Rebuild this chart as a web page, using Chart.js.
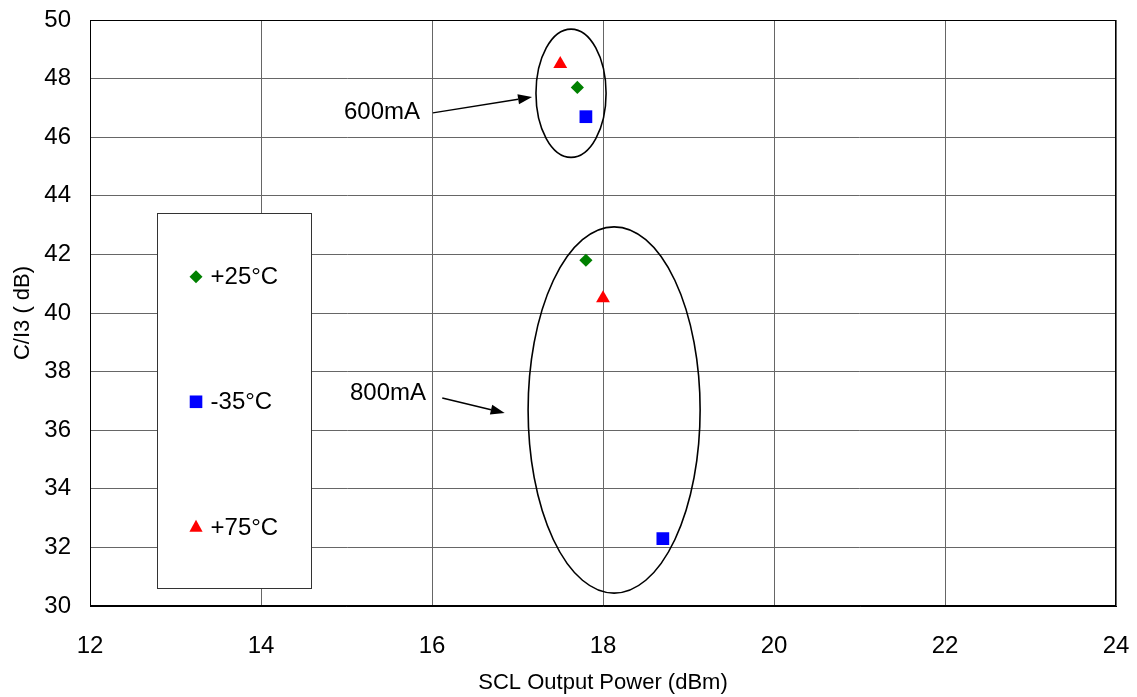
<!DOCTYPE html>
<html>
<head>
<meta charset="utf-8">
<script src="https://cdn.jsdelivr.net/npm/chart.js@4/dist/chart.umd.min.js"></script>
<style>
html,body{margin:0;padding:0;background:#fff;}
#wrap{width:1137px;height:697px;}
</style>
</head>
<body>
<div id="wrap"><canvas id="c" width="1137" height="697"></canvas></div>
<script>
// ---- data ----
const seriesNames = ['+25°C', '-35°C', '+75°C'];
const x25 = [17.7, 17.8];
const y25 = [47.7, 41.8];
const xm35 = [17.8, 18.7];
const ym35 = [46.7, 32.3];
const x75 = [17.5, 18.0];
const y75 = [48.5, 40.5];
const xTicks = [12, 14, 16, 18, 20, 22, 24];
const yTicks = [30, 32, 34, 36, 38, 40, 42, 44, 46, 48, 50];

// annotations (data units)
const groupLabels = ['600mA', '800mA'];
const labelX = [15.86, 15.93];
const labelY = [46.86, 37.24];
const arrowFromX = [16.01, 16.12];
const arrowFromY = [46.83, 37.10];
const arrowToX = [17.17, 16.85];
const arrowToY = [47.37, 36.59];
const ellCx = [17.626, 18.13];
const ellCy = [47.50, 36.69];
const ellRx = [0.41, 1.006];
const ellRy = [2.19, 6.25];
// legend box (data units)
const legendBox = {x0: 12.78, x1: 14.58, y0: 43.41, y1: 30.61};
const legendMarkX = 13.24;
const legendTextX = 13.41;
const legendRowY = [41.24, 36.97, 32.70];

const FONT = "'Liberation Sans', Arial, Helvetica, sans-serif";
const colors = ['#008000', '#0000FF', '#FF0000'];
const shapes = ['rectRot', 'rect', 'triangle'];
const radii = [6.6, 9, 8];

function pts(xs, ys) { return xs.map((x, i) => ({x: x, y: ys[i]})); }

function drawMarker(ctx, shape, x, y, color) {
  ctx.save();
  ctx.fillStyle = color;
  ctx.beginPath();
  if (shape === 'rectRot') {
    const r = 6.5;
    ctx.moveTo(x - r, y); ctx.lineTo(x, y - r); ctx.lineTo(x + r, y); ctx.lineTo(x, y + r);
  } else if (shape === 'rect') {
    const s = 6.3;
    ctx.rect(x - s, y - s, 2 * s, 2 * s);
  } else {
    const w = 6.6, h = 12;
    ctx.moveTo(x, y - h * 0.6); ctx.lineTo(x + w, y + h * 0.4); ctx.lineTo(x - w, y + h * 0.4);
  }
  ctx.closePath();
  ctx.fill();
  ctx.restore();
}

const overlay = {
  id: 'overlay',
  afterDatasetsDraw(chart) {
    const ctx = chart.ctx;
    const xs = chart.scales.x, ys = chart.scales.y;
    // ellipses
    ctx.save();
    ctx.strokeStyle = '#000';
    ctx.lineWidth = 1.6;
    for (let i = 0; i < ellCx.length; i++) {
      const cx = xs.getPixelForValue(ellCx[i]);
      const cy = ys.getPixelForValue(ellCy[i]);
      const rx = Math.abs(xs.getPixelForValue(ellCx[i] + ellRx[i]) - cx);
      const ry = Math.abs(ys.getPixelForValue(ellCy[i] + ellRy[i]) - cy);
      ctx.beginPath();
      ctx.ellipse(cx, cy, rx, ry, 0, 0, Math.PI * 2);
      ctx.stroke();
    }
    // arrows
    for (let i = 0; i < arrowFromX.length; i++) {
      const x1 = xs.getPixelForValue(arrowFromX[i]), y1 = ys.getPixelForValue(arrowFromY[i]);
      const x2 = xs.getPixelForValue(arrowToX[i]), y2 = ys.getPixelForValue(arrowToY[i]);
      const ang = Math.atan2(y2 - y1, x2 - x1);
      const L = 14, W = 5;
      const bx = x2 - L * Math.cos(ang), by = y2 - L * Math.sin(ang);
      ctx.beginPath();
      ctx.lineWidth = 1.5;
      ctx.moveTo(x1, y1); ctx.lineTo(bx, by); ctx.stroke();
      ctx.beginPath();
      ctx.fillStyle = '#000';
      ctx.moveTo(x2, y2);
      ctx.lineTo(bx + W * Math.sin(ang), by - W * Math.cos(ang));
      ctx.lineTo(bx - W * Math.sin(ang), by + W * Math.cos(ang));
      ctx.closePath();
      ctx.fill();
    }
    // group labels
    ctx.font = '24px ' + FONT;
    ctx.fillStyle = '#000';
    ctx.textAlign = 'right';
    ctx.textBaseline = 'middle';
    for (let i = 0; i < groupLabels.length; i++) {
      ctx.fillText(groupLabels[i], xs.getPixelForValue(labelX[i]), ys.getPixelForValue(labelY[i]));
    }
    // legend box
    const lx0 = Math.round(xs.getPixelForValue(legendBox.x0)) + 0.5;
    const lx1 = Math.round(xs.getPixelForValue(legendBox.x1)) + 0.5;
    const ly0 = Math.round(ys.getPixelForValue(legendBox.y0)) + 0.5;
    const ly1 = Math.round(ys.getPixelForValue(legendBox.y1)) + 0.5;
    ctx.fillStyle = '#fff';
    ctx.fillRect(lx0, ly0, lx1 - lx0, ly1 - ly0);
    ctx.strokeStyle = '#333';
    ctx.lineWidth = 1;
    ctx.strokeRect(lx0, ly0, lx1 - lx0, ly1 - ly0);
    ctx.textAlign = 'left';
    for (let i = 0; i < seriesNames.length; i++) {
      const py = ys.getPixelForValue(legendRowY[i]);
      drawMarker(ctx, shapes[i], xs.getPixelForValue(legendMarkX), py, colors[i]);
      ctx.fillStyle = '#000';
      ctx.fillText(seriesNames[i], xs.getPixelForValue(legendTextX), py + 1);
    }
    ctx.restore();
  },
  afterDraw(chart) {
    const ctx = chart.ctx, ca = chart.chartArea;
    ctx.save();
    ctx.strokeStyle = '#000';
    ctx.lineWidth = 1;
    ctx.strokeRect(Math.round(ca.left) + 0.5, Math.round(ca.top) + 0.5,
      Math.round(ca.right - ca.left) - 1, Math.round(ca.bottom - ca.top) - 1);
    ctx.restore();
  }
};

new Chart(document.getElementById('c'), {
  type: 'scatter',
  data: {
    datasets: [
      {label: seriesNames[0], data: pts(x25, y25), pointStyle: shapes[0], pointRadius: radii[0], pointHoverRadius: radii[0],
        backgroundColor: colors[0], borderColor: colors[0], borderWidth: 0},
      {label: seriesNames[1], data: pts(xm35, ym35), pointStyle: shapes[1], pointRadius: radii[1], pointHoverRadius: radii[1],
        backgroundColor: colors[1], borderColor: colors[1], borderWidth: 0},
      {label: seriesNames[2], data: pts(x75, y75), pointStyle: shapes[2], pointRadius: radii[2], pointHoverRadius: radii[2],
        backgroundColor: colors[2], borderColor: colors[2], borderWidth: 0}
    ]
  },
  options: {
    responsive: false,
    animation: false,
    events: [],
    layout: {padding: {top: 20, right: 21, left: 0, bottom: 0}},
    plugins: {legend: {display: false}, tooltip: {enabled: false}},
    scales: {
      x: {
        type: 'linear', min: 12, max: 24,
        afterBuildTicks(s) { s.ticks = xTicks.map(v => ({value: v})); },
        afterFit(s) { s.height = 91; s.paddingLeft = 0; s.paddingRight = 0; },
        grid: {color: '#666', lineWidth: 1, drawTicks: false},
        border: {color: '#000', width: 1},
        ticks: {color: '#000', padding: 26, font: {family: FONT, size: 24}, maxRotation: 0},
        title: {display: true, text: 'SCL Output Power (dBm)', color: '#000',
          font: {family: FONT, size: 22}, padding: {top: 0, bottom: 1}}
      },
      y: {
        type: 'linear', min: 30, max: 50,
        afterBuildTicks(s) { s.ticks = yTicks.map(v => ({value: v})); },
        afterFit(s) { s.width = 90; s.paddingTop = 0; s.paddingBottom = 0; },
        grid: {color: '#666', lineWidth: 1, drawTicks: false},
        border: {color: '#000', width: 1},
        ticks: {color: '#000', padding: 19, font: {family: FONT, size: 24}},
        title: {display: true, text: 'C/I3 ( dB)', color: '#000',
          font: {family: FONT, size: 22}, padding: {top: 10, bottom: 0}}
      }
    }
  },
  plugins: [overlay]
});
</script>
</body>
</html>
